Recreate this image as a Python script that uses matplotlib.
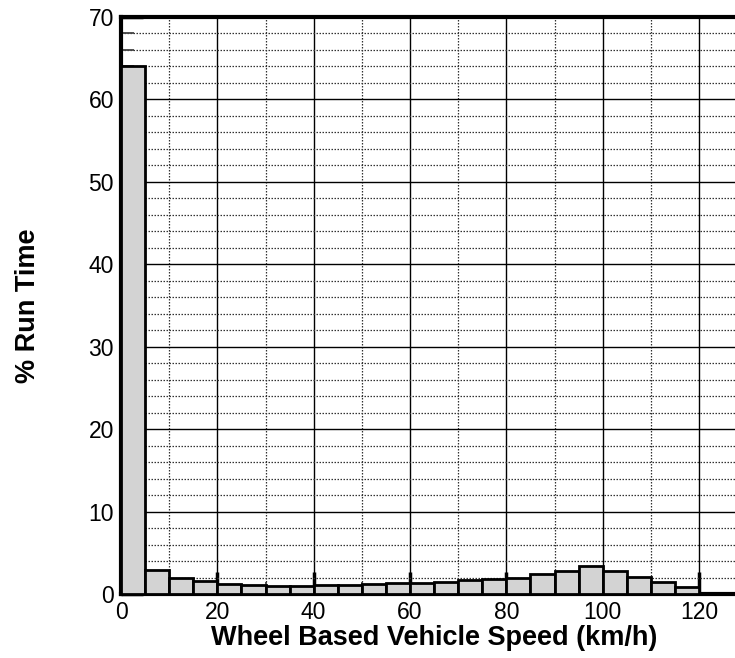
import matplotlib
matplotlib.use("Agg")
import matplotlib.pyplot as plt
import numpy as np
from matplotlib.ticker import MultipleLocator

plt.rcParams['font.family'] = ['Liberation Sans', 'DejaVu Sans']

bin_left = [0, 5, 10, 15, 20, 25, 30, 35, 40, 45, 50, 55, 60, 65, 70, 75, 80, 85, 90, 95, 100, 105, 110, 115]
pct_time = [64.0, 2.9, 1.96, 1.53, 1.24, 1.05, 0.93, 1.0, 1.12, 1.12, 1.2, 1.29, 1.29, 1.45, 1.65, 1.77, 1.97, 2.4, 2.77, 3.41, 2.85, 2.09, 1.49, 0.88]
bin_width = 5
xlabel = "Wheel Based Vehicle Speed (km/h)"
ylabel = "% Run Time"

fig = plt.figure(figsize=(7.35, 6.58), dpi=100)
px_per_unit = (699 - 121) / 120.0
xmax = 130
ax = fig.add_axes([121/735, (658-594)/658, xmax*px_per_unit/735, (594-17)/658])

ax.bar(bin_left, pct_time, width=bin_width, align='edge', color='#d3d3d3',
       edgecolor='black', linewidth=2, zorder=3)

ax.set_xlim(0, xmax)
ax.set_ylim(0, 70)
ax.xaxis.set_major_locator(MultipleLocator(20))
ax.xaxis.set_minor_locator(MultipleLocator(10))
ax.yaxis.set_major_locator(MultipleLocator(10))
ax.yaxis.set_minor_locator(MultipleLocator(2))

ax.grid(which='major', color='black', linestyle='-', linewidth=1.0, zorder=1)
ax.grid(which='minor', color='#333333', linestyle=(0, (1.2, 1.2)), linewidth=0.9, zorder=1)
ax.set_axisbelow(True)

for s in ax.spines.values():
    s.set_linewidth(3)
ax.spines['right'].set_visible(False)

ax.tick_params(which='major', direction='in', length=16, width=2.5, labelsize=16.5, pad=5)
ax.tick_params(which='minor', direction='in', length=9, width=1.3, color='#444444')
ax.tick_params(axis='both', which='both', top=False, right=False)

ax.set_xlabel(xlabel, fontsize=19.5, fontweight='bold', labelpad=1)
ax.set_ylabel(ylabel, fontsize=19.5, fontweight='bold', labelpad=34)

fig.savefig("out.png", dpi=100)
